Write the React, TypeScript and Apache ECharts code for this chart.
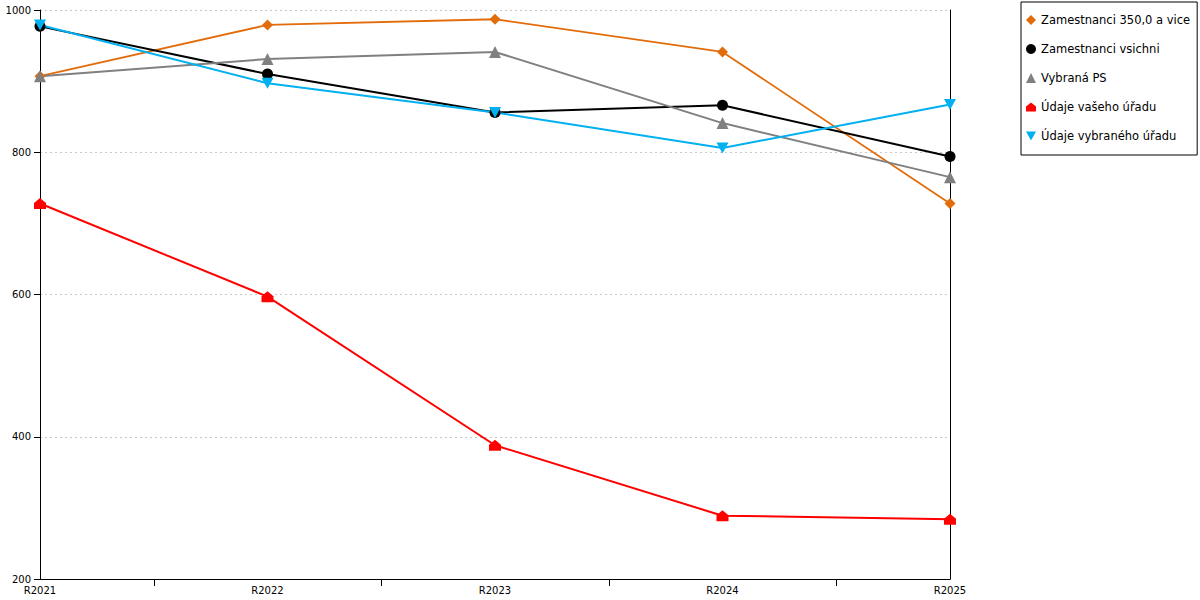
import React, { useEffect, useRef } from "react";
import * as echarts from "echarts";

const categories = ["R2021", "R2022", "R2023", "R2024", "R2025"];
const zam350 = [907, 979, 987, 941, 728];
const zamVsichni = [977, 910, 856, 866, 794];
const vybranaPS = [907, 931, 941, 841, 765];
const udajeVaseho = [728, 597, 388, 289, 284];
const udajeVybraneho = [979, 897, 856, 806, 867];
const yTicks = [200, 400, 600, 800, 1000];
const xTickPositions = [0.5, 1.5, 2.5, 3.5];

const houseSymbol = "path://M0,5 L6,0 L12,5 L12,11 L0,11 Z";
const invTriangle = "path://M0,0 L10,0 L5,9 Z";

const FONT = "DejaVu Sans";

export default function App() {
  const ref = useRef<HTMLDivElement>(null);
  useEffect(() => {
    if (!ref.current) return;
    const chart = echarts.init(ref.current, null, { renderer: "svg" });
    const mk = (name: string, data: number[], color: string, symbol: string, size: number | number[], width = 2) => ({
      name,
      type: "line",
      data,
      xAxisIndex: 0,
      yAxisIndex: 0,
      symbol,
      symbolSize: size,
      showSymbol: true,
      lineStyle: { color, width },
      itemStyle: { color },
      z: 3,
    });
    chart.setOption({
      animation: false,
      backgroundColor: "#ffffff",
      textStyle: { fontFamily: FONT },
      grid: { left: 40, right: 250, top: 10, bottom: 21, containLabel: false },
      legend: {
        orient: "vertical",
        left: 1021,
        top: 2,
        width: 178,
        padding: [11, 7, 12, 5],
        borderColor: "#000",
        borderWidth: 1,
        itemWidth: 10,
        itemHeight: 10,
        itemGap: 15,
        textStyle: { fontFamily: FONT, fontSize: 11.5, color: "#000", lineHeight: 14 },
        data: [
          { name: "Zamestnanci 350,0 a vice", icon: "diamond" },
          { name: "Zamestnanci vsichni", icon: "circle" },
          { name: "Vybraná PS", icon: "triangle" },
          { name: "Údaje vašeho úřadu", icon: houseSymbol },
          { name: "Údaje vybraného úřadu", icon: invTriangle },
        ],
      },
      xAxis: [
        {
          type: "category",
          data: categories,
          boundaryGap: false,
          axisLine: { show: true, lineStyle: { color: "#000", width: 1 } },
          axisTick: { show: false },
          axisLabel: { fontFamily: FONT, fontSize: 10, color: "#000", margin: 6 },
          splitLine: { show: false },
        },
        {
          type: "value",
          min: 0,
          max: 4,
          position: "bottom",
          axisLine: { show: false },
          axisTick: { show: true, length: 7, customValues: xTickPositions, lineStyle: { color: "#000" } },
          axisLabel: { show: false },
          splitLine: { show: false },
        },
      ],
      yAxis: [
        {
          type: "value",
          min: yTicks[0],
          max: yTicks[yTicks.length - 1],
          interval: 200,
          axisLine: { show: true, lineStyle: { color: "#000", width: 1 } },
          axisTick: { show: true, length: 6, lineStyle: { color: "#000" } },
          axisLabel: { fontFamily: FONT, fontSize: 10, color: "#000", margin: 9, formatter: (v: number) => String(v) },
          splitLine: { show: true, lineStyle: { color: "#c8c8c8", type: [2, 3], width: 1 } },
        },
        {
          type: "value",
          position: "right",
          min: yTicks[0],
          max: yTicks[yTicks.length - 1],
          interval: 200,
          axisLine: { show: true, lineStyle: { color: "#000", width: 1 } },
          axisTick: { show: false },
          axisLabel: { show: false },
          splitLine: { show: false },
        },
      ],
      series: [
        mk("Zamestnanci 350,0 a vice", zam350, "#E36C0A", "diamond", 11, 1.8),
        mk("Zamestnanci vsichni", zamVsichni, "#000000", "circle", 11),
        mk("Vybraná PS", vybranaPS, "#808080", "triangle", 12),
        mk("Údaje vašeho úřadu", udajeVaseho, "#FF0000", houseSymbol, [12, 11]),
        mk("Údaje vybraného úřadu", udajeVybraneho, "#00B0F0", invTriangle, [12, 11]),
      ],
    });
    return () => chart.dispose();
  }, []);
  return <div ref={ref} style={{ width: 1200, height: 600, position: "absolute", left: 0, top: 0 }} />;
}
